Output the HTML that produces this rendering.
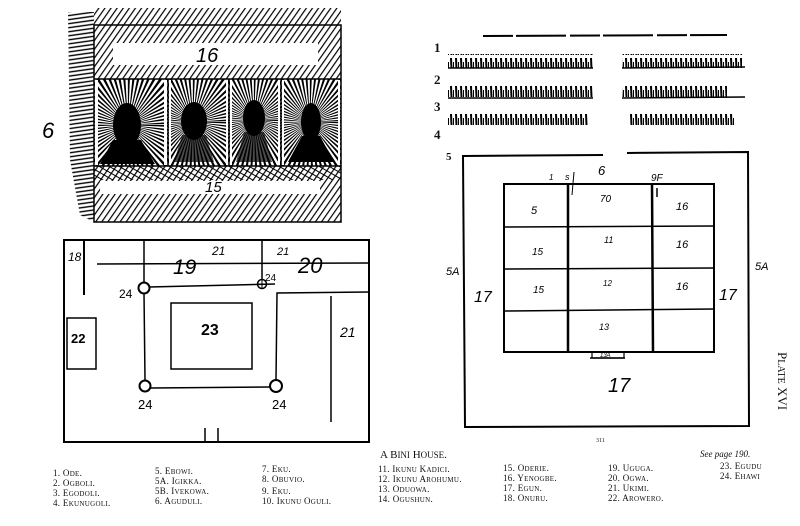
<!DOCTYPE html>
<html><head><meta charset="utf-8"><style>
html,body{margin:0;padding:0;background:#fff;}
svg{display:block}
.h{font-family:"Liberation Serif",serif;fill:#111}
.hw{font-family:"Liberation Sans",sans-serif;font-style:italic;fill:#000}
.lg{font-family:"Liberation Serif",serif;font-size:9px;fill:#111;letter-spacing:0.3px}
</style></head><body>
<svg width="800" height="526" viewBox="0 0 800 526" xmlns="http://www.w3.org/2000/svg">
<defs>
<pattern id="d1" width="5" height="5" patternUnits="userSpaceOnUse" patternTransform="rotate(35)">
<line x1="0" y1="0" x2="0" y2="5" stroke="#000" stroke-width="2.4"/></pattern>
<pattern id="d2" width="5" height="5" patternUnits="userSpaceOnUse" patternTransform="rotate(-60)">
<line x1="0" y1="0" x2="0" y2="5" stroke="#000" stroke-width="2"/></pattern>
<pattern id="hz" width="6" height="4" patternUnits="userSpaceOnUse" patternTransform="rotate(-8)">
<line x1="0" y1="1" x2="6" y2="1" stroke="#000" stroke-width="1.4"/></pattern>
<pattern id="gr" width="5" height="14" patternUnits="userSpaceOnUse">
<line x1="1" y1="2" x2="1.5" y2="13" stroke="#000" stroke-width="2"/>
<line x1="3.5" y1="6" x2="3.5" y2="13" stroke="#000" stroke-width="1"/></pattern>
<clipPath id="c1"><rect x="94" y="79" width="74" height="87"/></clipPath>
<clipPath id="c2"><rect x="168" y="79" width="61" height="87"/></clipPath>
<clipPath id="c3"><rect x="229" y="79" width="52" height="87"/></clipPath>
<clipPath id="c4"><rect x="281" y="79" width="60" height="87"/></clipPath>
</defs>

<!-- top-left drawing -->
<path d="M68 12 L94 12 L94 222 L80 215 L70 160 Z" fill="url(#hz)"/>
<rect x="94" y="8" width="247" height="71" fill="url(#d1)"/>
<rect x="94" y="166" width="247" height="56" fill="url(#d1)"/>
<rect x="94" y="166" width="247" height="14" fill="url(#d2)"/>
<rect x="113" y="43" width="205" height="22" fill="#fff"/>
<rect x="100" y="181" width="220" height="13" fill="#fff"/>
<rect x="94" y="25" width="247" height="197" fill="none" stroke="#000" stroke-width="1.5"/>
<line x1="94" y1="79" x2="341" y2="79" stroke="#000" stroke-width="1.5"/>
<line x1="94" y1="166" x2="341" y2="166" stroke="#000" stroke-width="1.5"/>
<g clip-path="url(#c1)"><circle cx="128" cy="125" r="30" fill="none" stroke="#000" stroke-width="60" stroke-dasharray="1.4 1.6"/></g>
<g clip-path="url(#c2)"><circle cx="193" cy="122" r="30" fill="none" stroke="#000" stroke-width="60" stroke-dasharray="1.4 1.6"/></g>
<g clip-path="url(#c3)"><circle cx="254" cy="120" r="30" fill="none" stroke="#000" stroke-width="60" stroke-dasharray="1.4 1.6"/></g>
<g clip-path="url(#c4)"><circle cx="310" cy="122" r="30" fill="none" stroke="#000" stroke-width="60" stroke-dasharray="1.4 1.6"/></g>
<g fill="#fff">
<rect x="95" y="80" width="3" height="85"/><rect x="164" y="80" width="3" height="85"/>
<rect x="169" y="80" width="2" height="85"/><rect x="226" y="80" width="2" height="85"/>
<rect x="230" y="80" width="2" height="85"/><rect x="278" y="80" width="2" height="85"/>
<rect x="282" y="80" width="2" height="85"/><rect x="338" y="80" width="2" height="85"/>
</g>
<g stroke="#000" stroke-width="1.5" fill="none">
<line x1="168" y1="79" x2="168" y2="166"/><line x1="229" y1="79" x2="229" y2="166"/><line x1="281" y1="79" x2="281" y2="166"/>
</g>
<g fill="#000">
<ellipse cx="127" cy="125" rx="14" ry="22"/>
<path d="M113 140 L100 164 L155 164 L141 140 Z"/>
<ellipse cx="194" cy="121" rx="13" ry="19"/>
<path d="M182 135 L174 162 L214 162 L206 135 Z" opacity="0.7"/>
<ellipse cx="254" cy="118" rx="11" ry="18"/>
<path d="M244 132 L236 162 L272 162 L264 132 Z" opacity="0.7"/>
<ellipse cx="311" cy="122" rx="10" ry="19"/>
<path d="M302 136 L288 162 L334 162 L320 136 Z"/>
</g>
<text x="196" y="62" class="hw" font-size="20" font-style="normal">16</text>
<text x="205" y="192" class="hw" font-size="15">15</text>
<text x="42" y="138" class="hw" font-size="22" font-style="normal">6</text>

<!-- left plan -->
<g stroke="#000" fill="none">
<rect x="64" y="240" width="305" height="202" stroke-width="2"/>
<line x1="84" y1="241" x2="84" y2="295" stroke-width="2"/>
<line x1="97" y1="264" x2="369" y2="263" stroke-width="1.5"/>
<line x1="144" y1="240" x2="144" y2="283" stroke-width="1.5"/>
<line x1="262" y1="240" x2="262" y2="279" stroke-width="1.5"/>
<line x1="149" y1="287" x2="275" y2="284" stroke-width="1.5"/>
<line x1="144" y1="293" x2="145" y2="380" stroke-width="1.5"/>
<line x1="151" y1="388" x2="270" y2="387" stroke-width="1.5"/>
<polyline points="276,380 277,293 369,292" stroke-width="1.5"/>
<rect x="171" y="303" width="81" height="66" stroke-width="1.5"/>
<rect x="67" y="318" width="29" height="51" stroke-width="1.5"/>
<line x1="331" y1="296" x2="331" y2="422" stroke-width="1.5"/>
<line x1="205" y1="428" x2="205" y2="442" stroke-width="1.5"/>
<line x1="218" y1="428" x2="218" y2="442" stroke-width="1.5"/>
<circle cx="144" cy="288" r="5.5" stroke-width="2"/>
<circle cx="262" cy="284" r="4.5" stroke-width="1.5"/>
<line x1="257" y1="284" x2="267" y2="284" stroke-width="1"/><line x1="262" y1="279" x2="262" y2="289" stroke-width="1"/>
<circle cx="145" cy="386" r="5.5" stroke-width="2"/>
<circle cx="276" cy="386" r="6" stroke-width="2"/>
</g>
<g class="hw">
<text x="68" y="261" font-size="12">18</text>
<text x="173" y="274" font-size="21">19</text>
<text x="212" y="255" font-size="12">21</text>
<text x="277" y="255" font-size="11">21</text>
<text x="298" y="273" font-size="22">20</text>
<text x="340" y="337" font-size="14">21</text>
<text x="71" y="343" font-size="13" font-style="normal" font-weight="bold">22</text>
<text x="201" y="335" font-size="16" font-style="normal" font-weight="bold">23</text>
<text x="119" y="298" font-size="12" font-style="normal">24</text>
<text x="265" y="281" font-size="10" font-style="normal">24</text>
<text x="138" y="409" font-size="13" font-style="normal">24</text>
<text x="272" y="409" font-size="13" font-style="normal">24</text>
</g>

<!-- top-right hatched rows -->
<line x1="483" y1="36" x2="727" y2="35" stroke="#000" stroke-width="2" stroke-dasharray="30 3 50 4"/>
<g>
<rect x="448" y="54" width="145" height="14" fill="url(#gr)"/>
<rect x="622" y="54" width="120" height="14" fill="url(#gr)"/>
<rect x="448" y="84" width="145" height="14" fill="url(#gr)"/>
<rect x="622" y="84" width="105" height="14" fill="url(#gr)"/>
<rect x="448" y="112" width="140" height="14" fill="url(#gr)"/>
<rect x="630" y="114" width="105" height="13" fill="url(#gr)"/>
</g>
<g stroke="#000" stroke-width="1.5">
<line x1="448" y1="68" x2="593" y2="68"/><line x1="622" y1="68" x2="745" y2="67"/>
<line x1="448" y1="98" x2="593" y2="98"/><line x1="622" y1="98" x2="745" y2="97"/>
</g>
<g class="h" font-weight="bold" font-size="13">
<text x="434" y="52">1</text><text x="434" y="84">2</text><text x="434" y="111">3</text><text x="434" y="139">4</text><text x="446" y="160" font-size="11">5</text>
</g>

<!-- right plan -->
<g stroke="#000" fill="none" stroke-width="2">
<polyline points="603,155 463,156 465,427 749,426 748,152 627,153"/>
<rect x="504" y="184" width="210" height="168"/>
<line x1="568" y1="184" x2="568" y2="352" stroke-width="2.5"/>
<line x1="652" y1="184" x2="653" y2="352" stroke-width="2.5"/>
<line x1="504" y1="227" x2="714" y2="226" stroke-width="1.5"/>
<line x1="504" y1="269" x2="714" y2="268" stroke-width="1.5"/>
<line x1="504" y1="311" x2="714" y2="309" stroke-width="1.5"/>
<line x1="574" y1="172" x2="572" y2="195" stroke-width="1"/>
<line x1="657" y1="188" x2="657" y2="197" stroke-width="1.5"/>
<polyline points="590,358 625,358" stroke-width="1.5"/>
<polyline points="592,352 592,358 624,358 624,352" stroke-width="1.2"/>
</g>
<g class="hw">
<text x="549" y="180" font-size="8">1</text>
<text x="565" y="180" font-size="9">s</text>
<text x="598" y="175" font-size="13">6</text>
<text x="651" y="181" font-size="10">9F</text>
<text x="600" y="202" font-size="10">70</text>
<text x="531" y="214" font-size="11">5</text>
<text x="676" y="210" font-size="11">16</text>
<text x="532" y="255" font-size="10">15</text>
<text x="604" y="243" font-size="9">11</text>
<text x="676" y="248" font-size="11">16</text>
<text x="533" y="293" font-size="10">15</text>
<text x="603" y="286" font-size="8">12</text>
<text x="676" y="290" font-size="11">16</text>
<text x="599" y="330" font-size="9">13</text>
<text x="600" y="357" font-size="6">13A</text>
<text x="474" y="302" font-size="16">17</text>
<text x="719" y="300" font-size="16">17</text>
<text x="608" y="392" font-size="20">17</text>
<text x="446" y="275" font-size="11">5A</text>
<text x="755" y="270" font-size="11">5A</text>
</g>
<text class="h" font-size="13" transform="translate(778,352) rotate(90)">P<tspan font-size="10">LATE</tspan> XVI</text>
<text x="596" y="442" class="h" font-size="6">311</text>

<!-- legend -->
<text x="380" y="458" class="h" font-size="11">A B<tspan font-size="9">INI</tspan> H<tspan font-size="9">OUSE</tspan>.</text>
<text x="700" y="457" class="h" font-size="9" font-style="italic">See page 190.</text>
<g class="lg">
<text x="53" y="476">1.  O<tspan font-size="7">DE</tspan>.</text>
<text x="53" y="486">2.  O<tspan font-size="7">GBOLI</tspan>.</text>
<text x="53" y="496">3.  E<tspan font-size="7">GODOLI</tspan>.</text>
<text x="53" y="506">4.  E<tspan font-size="7">KUNUGOLI</tspan>.</text>
<text x="155" y="474">5.  E<tspan font-size="7">BOWI</tspan>.</text>
<text x="155" y="484">5A. I<tspan font-size="7">GIKKA</tspan>.</text>
<text x="155" y="494">5B. I<tspan font-size="7">VEKOWA</tspan>.</text>
<text x="155" y="504">6.  A<tspan font-size="7">GUDULI</tspan>.</text>
<text x="262" y="472">7.  E<tspan font-size="7">KU</tspan>.</text>
<text x="262" y="482">8.  O<tspan font-size="7">BUVIO</tspan>.</text>
<text x="262" y="494">9.  E<tspan font-size="7">KU</tspan>.</text>
<text x="262" y="504">10. I<tspan font-size="7">KUNU</tspan> O<tspan font-size="7">GULI</tspan>.</text>
<text x="378" y="472">11. I<tspan font-size="7">KUNU</tspan> K<tspan font-size="7">ADICI</tspan>.</text>
<text x="378" y="482">12. I<tspan font-size="7">KUNU</tspan> A<tspan font-size="7">ROHUMU</tspan>.</text>
<text x="378" y="492">13. O<tspan font-size="7">DUOWA</tspan>.</text>
<text x="378" y="502">14. O<tspan font-size="7">GUSHUN</tspan>.</text>
<text x="503" y="471">15. O<tspan font-size="7">DERIE</tspan>.</text>
<text x="503" y="481">16. Y<tspan font-size="7">ENOGBE</tspan>.</text>
<text x="503" y="491">17. E<tspan font-size="7">GUN</tspan>.</text>
<text x="503" y="501">18. O<tspan font-size="7">NURU</tspan>.</text>
<text x="608" y="471">19. U<tspan font-size="7">GUGA</tspan>.</text>
<text x="608" y="481">20. O<tspan font-size="7">GWA</tspan>.</text>
<text x="608" y="491">21. U<tspan font-size="7">KIMI</tspan>.</text>
<text x="608" y="501">22. A<tspan font-size="7">ROWERO</tspan>.</text>
<text x="720" y="469">23. E<tspan font-size="7">GUDU</tspan></text>
<text x="720" y="479">24. E<tspan font-size="7">HAWI</tspan></text>
</g>
</svg>
</body></html>
